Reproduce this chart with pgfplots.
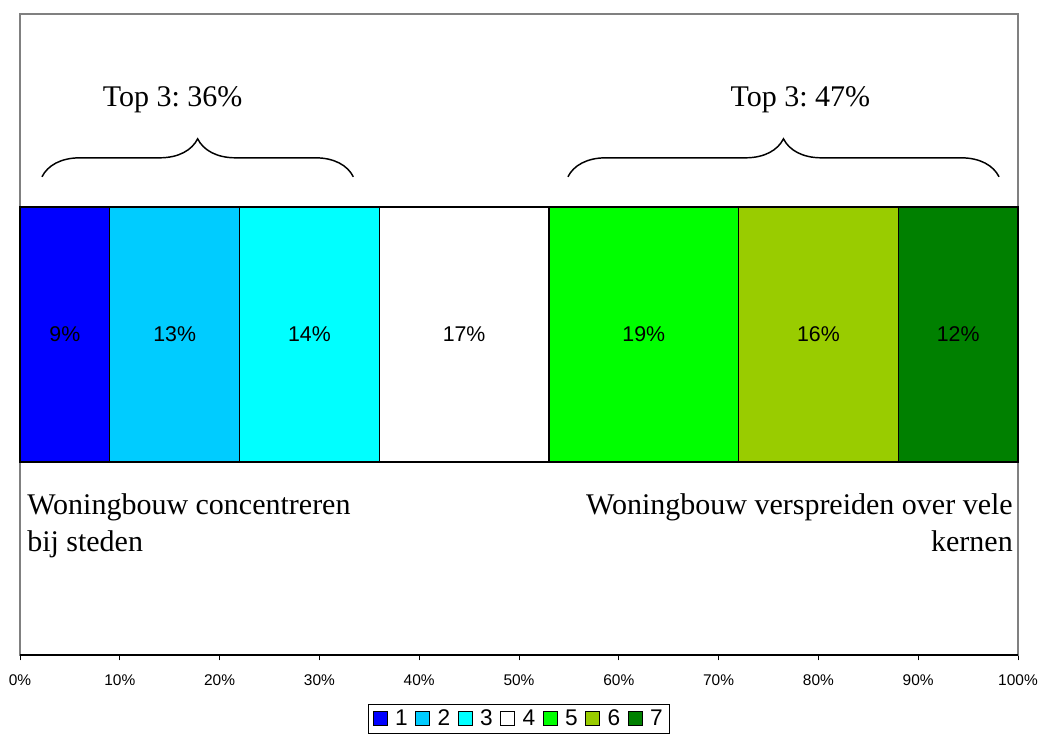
\documentclass[border=0pt]{standalone}
\usepackage{fontspec}
\setmainfont{Liberation Sans}
\newfontfamily\tnr{Liberation Serif}
\usepackage{pgfplots}
\pgfplotsset{compat=1.18}
\usetikzlibrary{decorations.pathreplacing,calc}
\frenchspacing

\definecolor{c1}{HTML}{0000FF}
\definecolor{c2}{HTML}{00CCFF}
\definecolor{c3}{HTML}{00FFFF}
\definecolor{c4}{HTML}{FFFFFF}
\definecolor{c5}{HTML}{00FF00}
\definecolor{c6}{HTML}{99CC00}
\definecolor{c7}{HTML}{008000}

\begin{document}
\begin{tikzpicture}
\begin{axis}[
    scale only axis,
    width=748.5pt, height=480.75pt,
    xmin=0, xmax=100, ymin=0, ymax=100,
    xtick={0,10,...,100}, ytick=\empty,
    xticklabel={\pgfmathprintnumber{\tick}\%},
    /pgf/number format/assume math mode=true,
    tick label style={font=\fontsize{11.6}{13}\selectfont},
    xticklabel style={yshift=-7.5pt},
    tick align=outside, xtick pos=bottom, major tick length=4pt,
    axis line style={draw=gray, line width=0.9pt},
    xtick style={black, line width=0.6pt},
    legend style={at={(0.5,0)}, anchor=north, yshift=-37pt,
        draw=black, font=\fontsize{17}{19}\selectfont,
        inner xsep=3pt, inner ysep=2pt,
        /tikz/every even column/.style={column sep=3.5pt},
        /tikz/every odd column/.style={column sep=3.5pt}},
    legend columns=-1,
    legend image code/.code={\draw[#1,draw=black,line width=0.9pt] (0pt,-5.25pt) rectangle (10.5pt,5.25pt);},
    clip=false,
    seg/.style={draw=black, line width=1pt, mark=none},
]
% segments: 9, 13, 14, 17, 19, 16, 12 (cumulative edges below)
\addplot[seg, fill=c1] coordinates {(0,30.1) (9,30.1) (9,69.9) (0,69.9)} -- cycle;
\addplot[seg, fill=c2] coordinates {(9,30.1) (22,30.1) (22,69.9) (9,69.9)} -- cycle;
\addplot[seg, fill=c3] coordinates {(22,30.1) (36,30.1) (36,69.9) (22,69.9)} -- cycle;
\addplot[seg, fill=c4] coordinates {(36,30.1) (53,30.1) (53,69.9) (36,69.9)} -- cycle;
\addplot[seg, fill=c5] coordinates {(53,30.1) (72,30.1) (72,69.9) (53,69.9)} -- cycle;
\addplot[seg, fill=c6] coordinates {(72,30.1) (88,30.1) (88,69.9) (72,69.9)} -- cycle;
\addplot[seg, fill=c7] coordinates {(88,30.1) (100,30.1) (100,69.9) (88,69.9)} -- cycle;
\legend{1,2,3,4,5,6,7}

% value labels inside the segments
\node[font=\fontsize{16}{18}\selectfont] at (axis cs:4.5,50) {9\%};
\node[font=\fontsize{16}{18}\selectfont] at (axis cs:15.5,50) {13\%};
\node[font=\fontsize{16}{18}\selectfont] at (axis cs:29,50) {14\%};
\node[font=\fontsize{16}{18}\selectfont] at (axis cs:44.5,50) {17\%};
\node[font=\fontsize{16}{18}\selectfont] at (axis cs:62.5,50) {19\%};
\node[font=\fontsize{16}{18}\selectfont] at (axis cs:80,50) {16\%};
\node[font=\fontsize{16}{18}\selectfont] at (axis cs:94,50) {12\%};

% braces and notes
\draw[decorate, decoration={brace, amplitude=28.5pt}, line width=1.1pt]
    (axis cs:2.2,74.6) -- (axis cs:33.4,74.6);
\draw[decorate, decoration={brace, amplitude=28.5pt}, line width=1.1pt]
    (axis cs:54.9,74.6) -- (axis cs:98.1,74.6);
\node[anchor=base, font=\tnr\fontsize{22.5}{27.75}\selectfont]
    at (axis cs:15.3,85.5) {Top 3: 36\%};
\node[anchor=base, font=\tnr\fontsize{22.5}{27.75}\selectfont]
    at (axis cs:78.2,85.5) {Top 3: 47\%};
\node[anchor=base west, align=left, inner sep=0pt,
      font=\tnr\fontsize{22.5}{27.75}\selectfont]
    at (axis cs:0.7,16.1) {Woningbouw concentreren\\bij steden};
\node[anchor=base east, align=right, inner sep=0pt,
      font=\tnr\fontsize{22.5}{27.75}\selectfont]
    at (axis cs:99.5,16.1) {Woningbouw verspreiden over vele\\kernen};

\draw[black, line width=0.9pt] (rel axis cs:0,0) -- (rel axis cs:1,0);
\coordinate (sw) at (rel axis cs:0,0);
\coordinate (ne) at (rel axis cs:1,1);
\end{axis}
\pgfresetboundingbox
\path ($(sw)+(-15pt,-58.5pt)$) rectangle ($(ne)+(15pt,10.5pt)$);
\end{tikzpicture}
\end{document}
